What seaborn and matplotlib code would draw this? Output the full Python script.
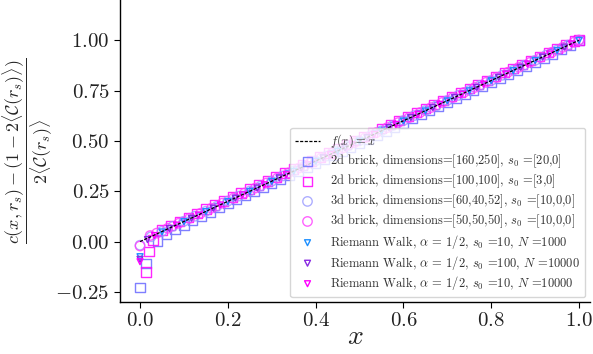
import matplotlib
matplotlib.use("Agg")
import matplotlib.pyplot as plt
import seaborn as sns
import pandas as pd

# ---------------- data ----------------
line_x = [0.0, 1.0]
line_y = [0.0, 1.0]

b2a_x = [0.000, 0.014, 0.040, 0.060, 0.080, 0.100, 0.120, 0.140, 0.160, 0.180, 0.200, 0.220, 0.240,
         0.260, 0.280, 0.300, 0.320, 0.340, 0.360, 0.380, 0.400, 0.420, 0.440, 0.460, 0.480, 0.500,
         0.520, 0.540, 0.560, 0.580, 0.600, 0.620, 0.640, 0.660, 0.680, 0.700, 0.720, 0.740, 0.760,
         0.780, 0.800, 0.820, 0.840, 0.860, 0.880, 0.900, 0.920, 0.940, 0.960, 0.980, 1.000]
b2a_y = [-0.228, -0.108, 0.002, 0.036, 0.060, 0.082, 0.104, 0.126, 0.147, 0.168, 0.189, 0.209, 0.230,
         0.250, 0.270, 0.290, 0.310, 0.330, 0.350, 0.370, 0.390, 0.410, 0.430, 0.450, 0.470, 0.490,
         0.510, 0.530, 0.550, 0.570, 0.590, 0.611, 0.631, 0.651, 0.671, 0.691, 0.711, 0.731, 0.751,
         0.771, 0.791, 0.811, 0.831, 0.852, 0.872, 0.892, 0.912, 0.932, 0.953, 0.975, 0.998]

b2b_x = [0.014, 0.020, 0.030, 0.050, 0.070, 0.090, 0.110, 0.130, 0.150, 0.170, 0.190, 0.210, 0.230,
         0.250, 0.270, 0.290, 0.310, 0.330, 0.350, 0.370, 0.390, 0.410, 0.430, 0.450, 0.470, 0.490,
         0.510, 0.530, 0.550, 0.570, 0.590, 0.610, 0.630, 0.650, 0.670, 0.690, 0.710, 0.730, 0.750,
         0.770, 0.790, 0.810, 0.830, 0.850, 0.870, 0.890, 0.910, 0.930, 0.950, 0.970, 0.990, 1.000]
b2b_y = [-0.150, -0.050, 0.008, 0.058, 0.080, 0.100, 0.121, 0.141, 0.161, 0.181, 0.201, 0.221, 0.241,
         0.261, 0.281, 0.301, 0.321, 0.341, 0.361, 0.381, 0.401, 0.421, 0.441, 0.461, 0.481, 0.501,
         0.521, 0.541, 0.561, 0.581, 0.601, 0.621, 0.641, 0.661, 0.681, 0.701, 0.721, 0.741, 0.761,
         0.780, 0.800, 0.820, 0.840, 0.860, 0.880, 0.899, 0.919, 0.939, 0.958, 0.978, 0.996, 1.002]

b3a_x = [0.000, 0.025, 0.050, 0.075, 0.100, 0.125, 0.150, 0.175, 0.200, 0.225, 0.250, 0.275, 0.300,
         0.325, 0.350, 0.375, 0.400, 0.425, 0.450, 0.475, 0.500, 0.525, 0.550, 0.575, 0.600, 0.625,
         0.650, 0.675, 0.700, 0.725, 0.750, 0.775, 0.800, 0.825, 0.850, 0.875, 0.900, 0.925, 0.950,
         0.975, 1.000]
b3a_y = [-0.018, 0.024, 0.051, 0.076, 0.101, 0.126, 0.151, 0.175, 0.201, 0.226, 0.251, 0.276, 0.300,
         0.326, 0.351, 0.376, 0.401, 0.425, 0.451, 0.476, 0.501, 0.526, 0.550, 0.576, 0.601, 0.626,
         0.651, 0.675, 0.701, 0.726, 0.751, 0.776, 0.800, 0.826, 0.851, 0.876, 0.900, 0.926, 0.951,
         0.976, 1.000]

b3b_x = [0.000, 0.023, 0.038, 0.063, 0.088, 0.113, 0.138, 0.163, 0.188, 0.213, 0.238, 0.263, 0.288,
         0.313, 0.338, 0.363, 0.388, 0.413, 0.438, 0.463, 0.488, 0.513, 0.538, 0.563, 0.588, 0.613,
         0.638, 0.663, 0.688, 0.713, 0.738, 0.763, 0.788, 0.813, 0.838, 0.863, 0.888, 0.913, 0.938,
         0.963, 0.988, 1.000]
b3b_y = [-0.022, 0.030, 0.042, 0.066, 0.091, 0.116, 0.141, 0.166, 0.191, 0.216, 0.241, 0.266, 0.291,
         0.316, 0.341, 0.366, 0.391, 0.416, 0.441, 0.466, 0.491, 0.516, 0.541, 0.566, 0.591, 0.616,
         0.641, 0.666, 0.691, 0.716, 0.741, 0.766, 0.791, 0.816, 0.841, 0.866, 0.890, 0.915, 0.940,
         0.965, 0.990, 1.001]

rw1_x = [0.000, 0.050, 0.100, 0.150, 0.200, 0.250, 0.300, 0.350, 0.400, 0.450, 0.500, 0.550, 0.600,
         0.650, 0.700, 0.750, 0.800, 0.850, 0.900, 0.950, 1.000]
rw1_y = [-0.075, 0.048, 0.099, 0.149, 0.199, 0.249, 0.299, 0.349, 0.399, 0.449, 0.499, 0.549, 0.599,
         0.649, 0.699, 0.749, 0.799, 0.849, 0.899, 0.949, 0.999]

rw2_x = [0.000, 0.017, 0.067, 0.117, 0.167, 0.217, 0.267, 0.317, 0.367, 0.417, 0.467, 0.517, 0.567,
         0.617, 0.667, 0.717, 0.767, 0.817, 0.867, 0.917, 0.967]
rw2_y = [-0.088, 0.010, 0.065, 0.116, 0.166, 0.216, 0.266, 0.316, 0.366, 0.416, 0.466, 0.516, 0.566,
         0.616, 0.666, 0.716, 0.766, 0.816, 0.866, 0.916, 0.966]

rw3_x = [0.000, 0.033, 0.083, 0.133, 0.183, 0.233, 0.283, 0.333, 0.383, 0.433, 0.483, 0.533, 0.583,
         0.633, 0.683, 0.733, 0.783, 0.833, 0.883, 0.933, 0.983]
rw3_y = [-0.100, 0.030, 0.082, 0.132, 0.182, 0.232, 0.282, 0.332, 0.382, 0.432, 0.482, 0.532, 0.582,
         0.632, 0.682, 0.732, 0.782, 0.832, 0.882, 0.932, 0.982]

labels = [
    r"2d brick, dimensions=[160,250], $s_0$ =[20,0]",
    r"2d brick, dimensions=[100,100], $s_0$ =[3,0]",
    r"3d brick, dimensions=[60,40,52], $s_0$ =[10,0,0]",
    r"3d brick, dimensions=[50,50,50], $s_0$ =[10,0,0]",
    r"Riemann Walk, $\alpha$ = 1/2, $s_0$ =10, $N$ =1000",
    r"Riemann Walk, $\alpha$ = 1/2, $s_0$ =100, $N$ =10000",
    r"Riemann Walk, $\alpha$ = 1/2, $s_0$ =10, $N$ =10000",
]

# ---------------- style ----------------
sns.set_style("ticks")
plt.rcParams["font.family"] = ["cmr10", "DejaVu Serif"]
plt.rcParams["mathtext.fontset"] = "cm"
plt.rcParams["axes.formatter.use_mathtext"] = True
plt.rcParams["axes.unicode_minus"] = True

fig = plt.figure(figsize=(5.93, 3.54), dpi=100)
ax = fig.add_axes([120 / 593, 52 / 354, 470 / 593, 302 / 354])

sns.lineplot(x=line_x, y=line_y, ax=ax, color="black", linestyle=(0, (2.5, 1.2)),
             linewidth=0.9, label=r"$f(x) = x$", zorder=5)

series = [
    (b2a_x, b2a_y, "s", "#7f7fff", 46, 1.0),
    (b2b_x, b2b_y, "s", "#ff00ff", 46, 0.85),
    (b3a_x, b3a_y, "o", "#9a9aff", 46, 0.8),
    (b3b_x, b3b_y, "o", "#ff3cff", 46, 0.8),
    (rw1_x, rw1_y, "v", "#1e90ff", 18, 1.0),
    (rw2_x, rw2_y, "v", "#8a2be2", 18, 1.0),
    (rw3_x, rw3_y, "v", "#ff00ff", 18, 1.0),
]
for (xs, ys, mk, col, sz, al), lab in zip(series, labels):
    df = pd.DataFrame({"x": xs, "y": ys})
    sns.scatterplot(data=df, x="x", y="y", ax=ax, marker=mk, s=sz,
                    facecolors="none", edgecolors=col, linewidths=1.0,
                    alpha=al, label=lab, zorder=3)

ax.set_xlim(-0.0456, 1.025)
ax.set_ylim(-0.3, 1.2)
ax.set_xticks([0.0, 0.2, 0.4, 0.6, 0.8, 1.0])
ax.set_yticks([-0.25, 0.0, 0.25, 0.5, 0.75, 1.0])
ax.tick_params(labelsize=15, colors="black", length=4, width=0.8)
for lbl in ax.get_xticklabels() + ax.get_yticklabels():
    lbl.set_color("#222222")
sns.despine(ax=ax)
for sp in ["left", "bottom"]:
    ax.spines[sp].set_color("black")
    ax.spines[sp].set_linewidth(1.0)

ax.set_xlabel(r"$x$", fontsize=20, labelpad=-5)
ax.set_ylabel(r"$\dfrac{c(x,r_s) - (1 - 2\langle \mathcal{C}(r_s)\rangle)}{2\langle \mathcal{C}(r_s) \rangle}$",
              fontsize=13, labelpad=0)

leg = ax.legend(loc="lower right", fontsize=9, framealpha=0.8, borderaxespad=0.4,
                scatterpoints=1, handletextpad=0.8, labelspacing=0.2)
for t in leg.get_texts():
    t.set_color("#333333")

fig.savefig("out.png", dpi=100)
